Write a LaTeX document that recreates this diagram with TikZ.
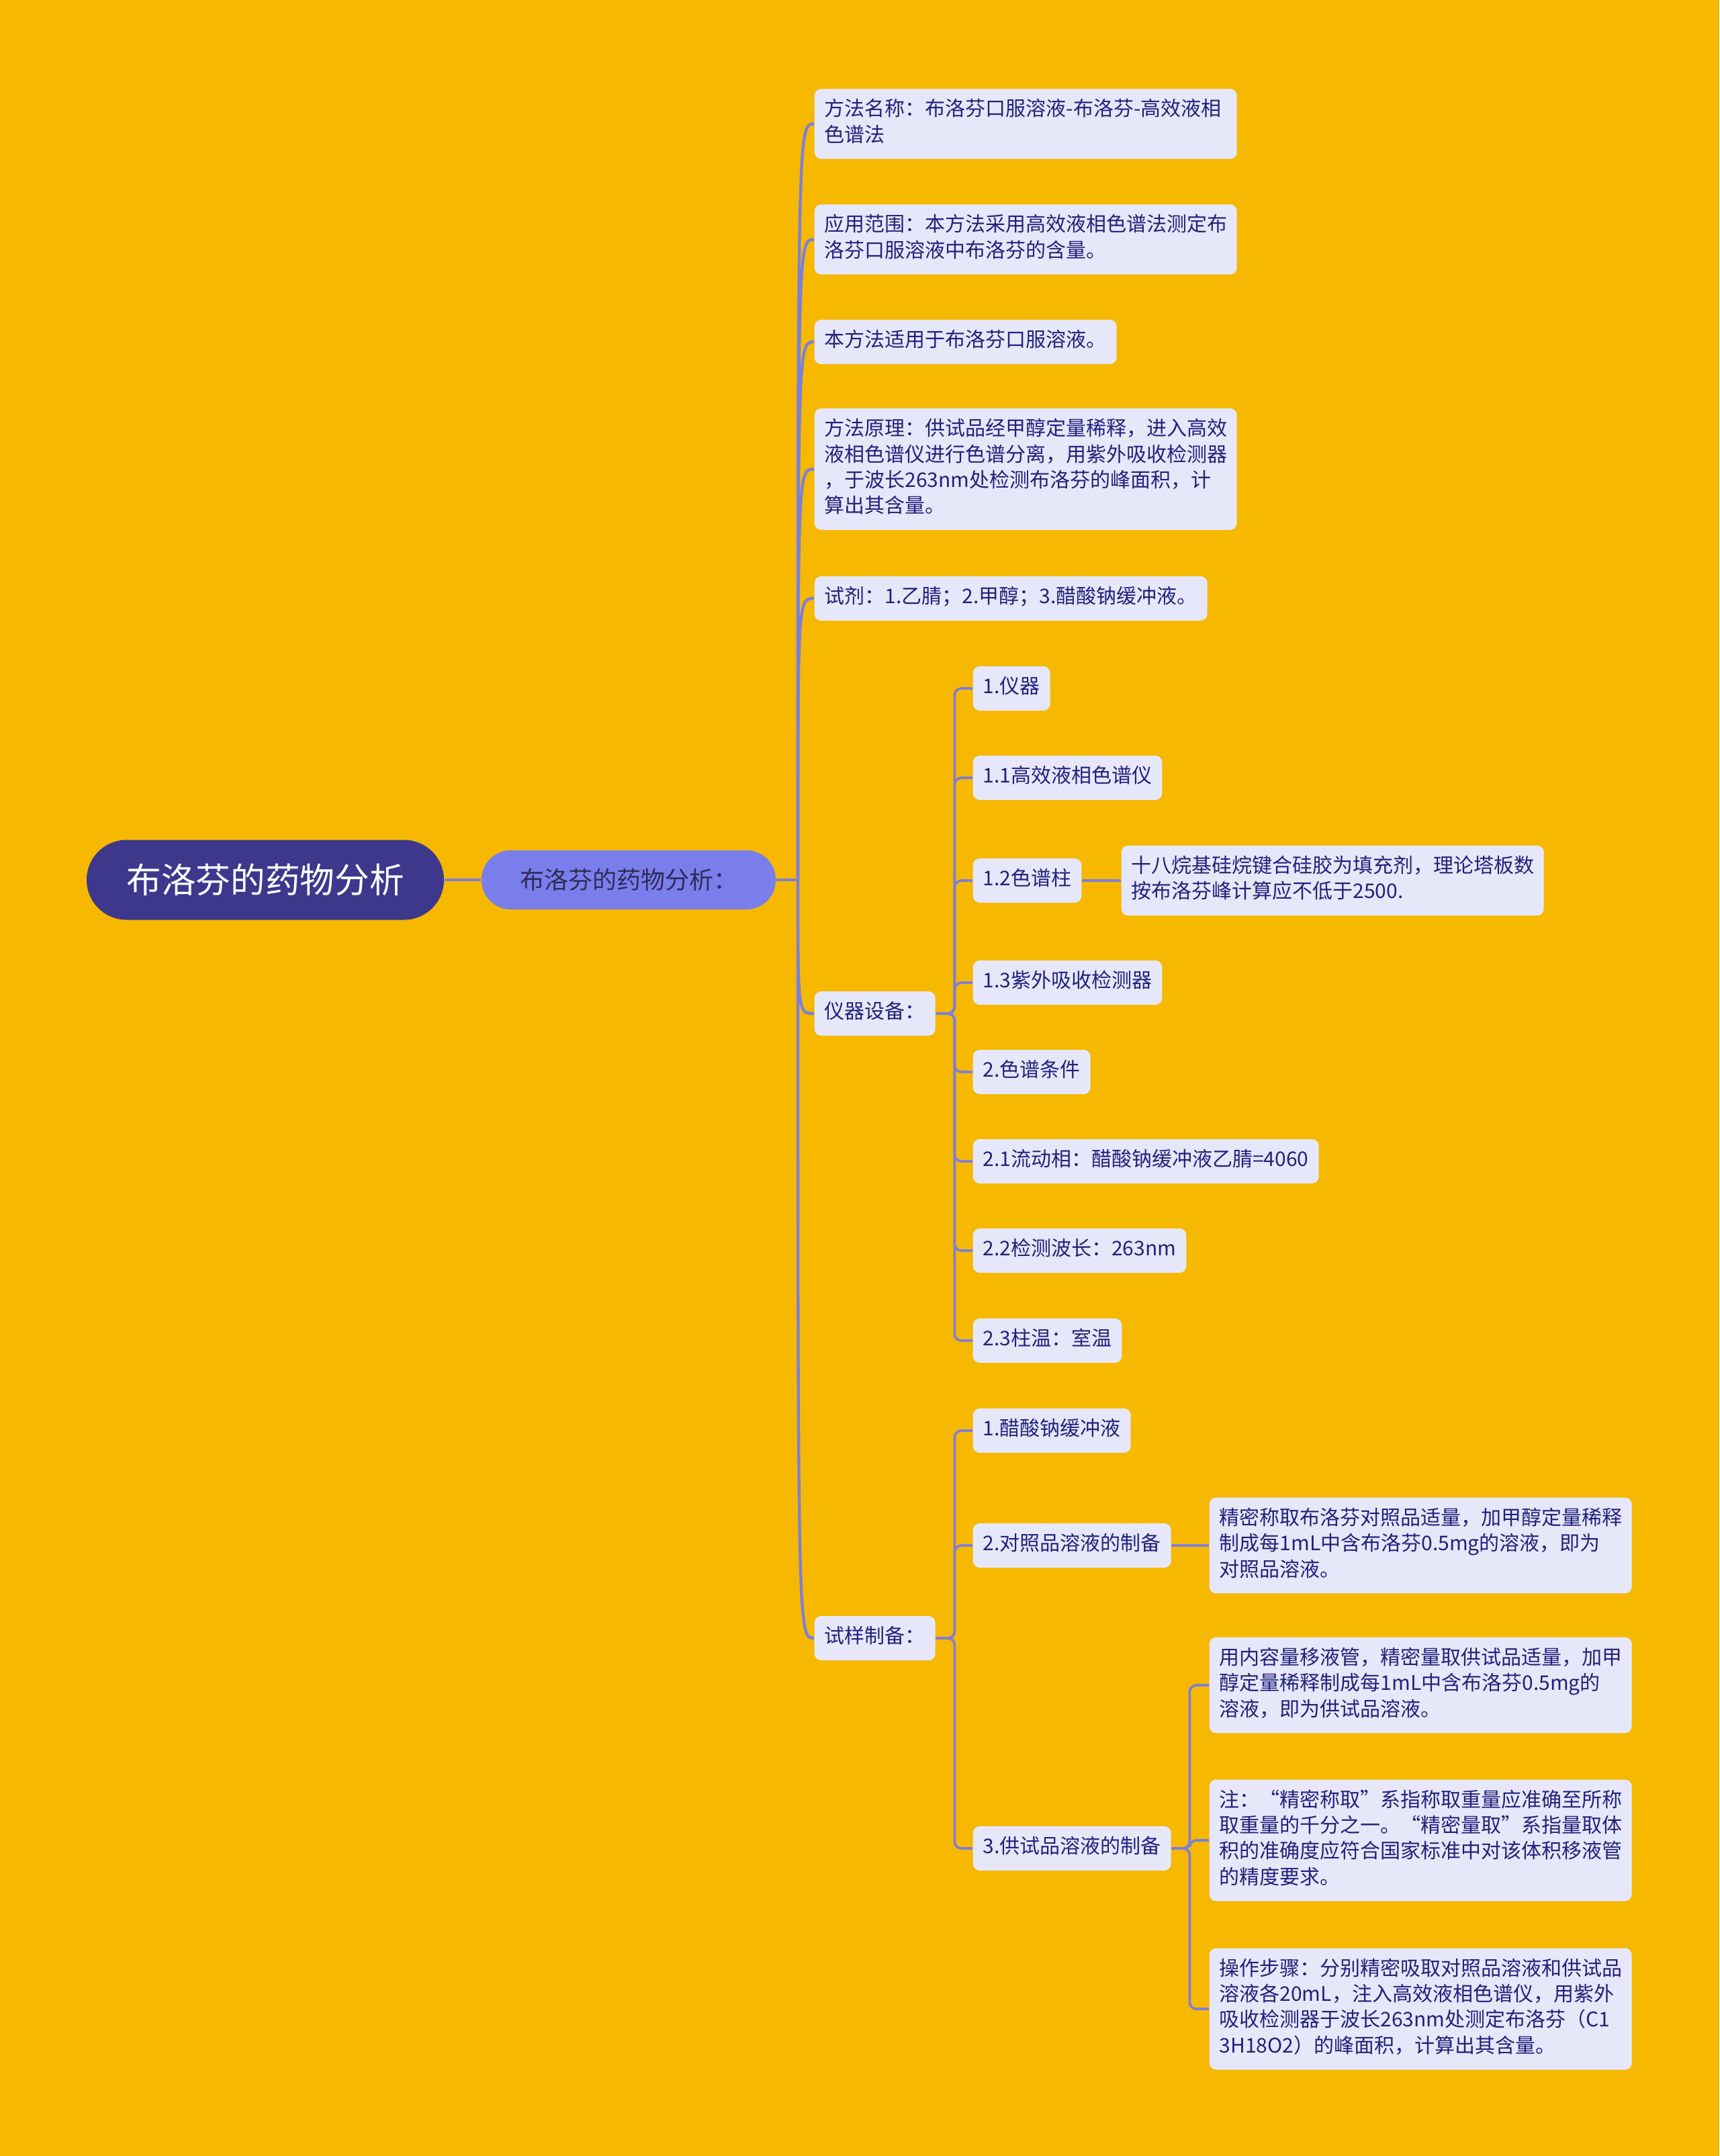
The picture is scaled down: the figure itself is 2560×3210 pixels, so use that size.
\documentclass[tikz,border=0pt]{standalone}
\usepackage{fontspec}
\setmainfont{Noto Sans CJK SC}
\usetikzlibrary{positioning}
\definecolor{bgY}{HTML}{F6B800}
\definecolor{boxF}{HTML}{E6E7F8}
\definecolor{ink}{HTML}{22217C}
\definecolor{lineC}{HTML}{7C7FD9}
\definecolor{rootF}{HTML}{3D388C}
\definecolor{subF}{HTML}{7A7EEA}
\definecolor{subT}{HTML}{2E2C5A}
\tikzset{
  rootbox/.style ={fill=rootF,text=white,rounded corners=17.8pt,inner sep=0pt,align=center,
                   minimum width=159.6pt,minimum height=35.7pt,font=\fontsize{15.5}{18}\selectfont},
  subbox/.style  ={fill=subF,text=subT,rounded corners=13pt,inner sep=0pt,align=center,
                   minimum width=131.4pt,minimum height=26.4pt,font=\fontsize{10.8}{13}\selectfont},
  tbox/.style    ={fill=boxF,text=ink,rounded corners=3pt,inner xsep=4.5pt,inner ysep=4.15pt,
                   align=left,anchor=west,font=\fontsize{9}{11.5}\selectfont,
                   execute at begin node=\strut,execute at end node=\strut},
  wbox/.style    ={tbox,text width=179.7pt},
  mline/.style   ={draw=lineC,line width=1.3pt},
  sline/.style   ={draw=lineC,line width=1.1pt,rounded corners=3pt},
}
\begin{document}
\begin{tikzpicture}[x=0.3pt,y=-0.3pt]
  \useasboundingbox (0,0) rectangle (2560,3210);
  \fill[bgY] (0,0) rectangle (2560,3210);

  % ---------- root and main topic ----------
  \node[rootbox] (root) at (395,1310) {布洛芬的药物分析};
  \node[subbox] (sub) at (936,1310) {布洛芬的药物分析：};

  % ---------- second level ----------
  \node[wbox] (name) at (1212,184.5) {方法名称：布洛芬口服溶液-布洛芬-高效液相\\色谱法};
  \node[wbox] (scope) at (1212,356.5) {应用范围：本方法采用高效液相色谱法测定布\\洛芬口服溶液中布洛芬的含量。};
  \node[tbox] (use) at (1212,509) {本方法适用于布洛芬口服溶液。};
  \node[wbox] (prin) at (1212,698.5) {方法原理：供试品经甲醇定量稀释，进入高效\\液相色谱仪进行色谱分离，用紫外吸收检测器\\，于波长263nm处检测布洛芬的峰面积，计\\算出其含量。};
  \node[tbox] (reag) at (1212,891) {试剂：1.乙腈；2.甲醇；3.醋酸钠缓冲液。};
  \node[tbox] (equip) at (1212,1509) {仪器设备：};
  \node[tbox] (prep) at (1212,2439) {试样制备：};

  % ---------- instruments ----------
  \node[tbox] (eq1) at (1448,1025) {1.仪器};
  \node[tbox] (hplc) at (1448,1158) {1.1高效液相色谱仪};
  \node[tbox] (col) at (1448,1311) {1.2色谱柱};
  \node[wbox] (colL) at (1669,1311) {十八烷基硅烷键合硅胶为填充剂，理论塔板数\\按布洛芬峰计算应不低于2500.};
  \node[tbox] (uv) at (1448,1463) {1.3紫外吸收检测器};
  \node[tbox] (cond) at (1448,1596) {2.色谱条件};
  \node[tbox] (mob) at (1448,1729) {2.1流动相：醋酸钠缓冲液乙腈=4060};
  \node[tbox] (wave) at (1448,1862) {2.2检测波长：263nm};
  \node[tbox] (temp) at (1448,1996) {2.3柱温：室温};

  % ---------- sample preparation ----------
  \node[tbox] (buf) at (1448,2130) {1.醋酸钠缓冲液};
  \node[tbox] (refp) at (1448,2301) {2.对照品溶液的制备};
  \node[wbox] (refL) at (1800,2301) {精密称取布洛芬对照品适量，加甲醇定量稀释\\制成每1mL中含布洛芬0.5mg的溶液，即为\\对照品溶液。};
  \node[tbox] (tstp) at (1448,2752) {3.供试品溶液的制备};
  \node[wbox] (tstA) at (1800,2509) {用内容量移液管，精密量取供试品适量，加甲\\醇定量稀释制成每1mL中含布洛芬0.5mg的\\溶液，即为供试品溶液。};
  \node[wbox] (tstB) at (1800,2740) {注：“精密称取”系指称取重量应准确至所称\\取重量的千分之一。“精密量取”系指量取体\\积的准确度应符合国家标准中对该体积移液管\\的精度要求。};
  \node[wbox] (tstC) at (1800,2991) {操作步骤：分别精密吸取对照品溶液和供试品\\溶液各20mL，注入高效液相色谱仪，用紫外\\吸收检测器于波长263nm处测定布洛芬（C1\\3H18O2）的峰面积，计算出其含量。};

  % ---------- connectors ----------
  \coordinate (hub) at (1188,1310);
  \draw[mline] (root.east) -- (sub.west);
  \draw[mline] (sub.east) -- (hub);
  \draw[mline] (hub) .. controls (hub |- name.west) .. (name.west);
  \draw[mline] (hub) .. controls (hub |- scope.west) .. (scope.west);
  \draw[mline] (hub) .. controls (hub |- use.west) .. (use.west);
  \draw[mline] (hub) .. controls (hub |- prin.west) .. (prin.west);
  \draw[mline] (hub) .. controls (hub |- reag.west) .. (reag.west);
  \draw[mline] (hub) .. controls (hub |- equip.west) .. (equip.west);
  \draw[mline] (hub) .. controls (hub |- prep.west) .. (prep.west);

  \draw[sline] (equip.east) -- ++(28,0) |- (eq1.west);
  \draw[sline] (equip.east) -- ++(28,0) |- (hplc.west);
  \draw[sline] (equip.east) -- ++(28,0) |- (col.west);
  \draw[sline] (equip.east) -- ++(28,0) |- (uv.west);
  \draw[sline] (equip.east) -- ++(28,0) |- (cond.west);
  \draw[sline] (equip.east) -- ++(28,0) |- (mob.west);
  \draw[sline] (equip.east) -- ++(28,0) |- (wave.west);
  \draw[sline] (equip.east) -- ++(28,0) |- (temp.west);
  \draw[sline] (col.east) -- (colL.west);

  \draw[sline] (prep.east) -- ++(28,0) |- (buf.west);
  \draw[sline] (prep.east) -- ++(28,0) |- (refp.west);
  \draw[sline] (prep.east) -- ++(28,0) |- (tstp.west);
  \draw[sline] (refp.east) -- (refL.west);
  \draw[sline] (tstp.east) -- ++(27,0) |- (tstA.west);
  \draw[sline] (tstp.east) -- ++(27,0) |- (tstB.west);
  \draw[sline] (tstp.east) -- ++(27,0) |- (tstC.west);

\end{tikzpicture}
\end{document}
